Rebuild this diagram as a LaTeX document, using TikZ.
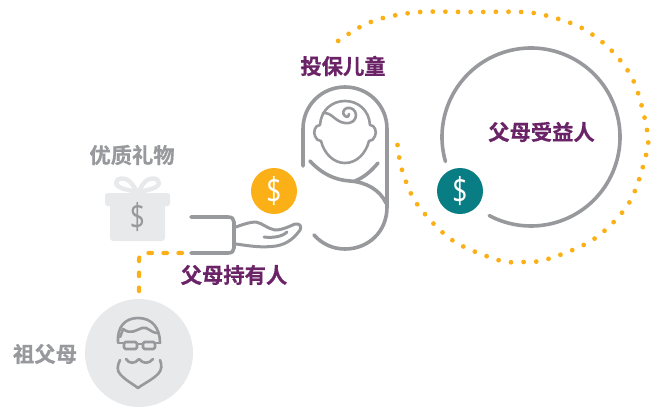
\documentclass[tikz,border=0pt]{standalone}
\usepackage{fontspec}
\setmainfont{Open Sans}
\newfontfamily\cjk{Noto Sans CJK SC}[BoldFont={Noto Sans CJK SC Bold},BoldFeatures={FakeBold=0.6}]
\definecolor{lineg}{HTML}{98999C}
\definecolor{lightg}{HTML}{E8E9EB}
\definecolor{plum}{HTML}{6B2367}
\definecolor{amber}{HTML}{FBB018}
\definecolor{tealc}{HTML}{087D84}
\newcommand{\dollarmark}{\scalebox{0.8}[1.08]{\$}}
\tikzset{
 every node/.style={inner sep=0pt,outer sep=0pt},
 glyph/.style={draw=lineg,line width=3.6pt,line cap=round,line join=round},
 face/.style={draw=lineg,line width=2.6pt,line cap=round,line join=round},
 bowline/.style={draw=lightg,line width=4.4pt,line cap=round,line join=round},
 titlep/.style={font=\cjk\bfseries\fontsize{21.3}{24}\selectfont,text=plum},
 titleg/.style={font=\cjk\bfseries\fontsize{21.3}{24}\selectfont,text=lineg},
 coin/.style={circle,minimum size=46pt,text=white,font=\fontsize{33}{36}\selectfont},
 dotpath/.style={draw=amber,line width=4.8pt,line cap=round,dash pattern=on 0pt off 12.62pt},
 dashpath/.style={draw=amber,line width=4.2pt,line cap=round,dash pattern=on 3.6pt off 11.4pt}
}
\begin{document}
\begin{tikzpicture}[x=1pt,y=-1pt]
\useasboundingbox (0,0) rectangle (660,407);
% labels
\node[titlep] (lblinsured) at (343,66) {投保儿童};
\node[titlep] (lblbenef) at (541.5,132) {父母受益人};
\node[titlep] (lblholder) at (234,275) {父母持有人};
\node[titleg] (lblgift) at (132,155) {优质礼物};
\node[titleg] (lblgrand) at (45,354) {祖父母};
% beneficiary ring
\coordinate (ringc) at (531,137);
\draw[glyph] (ringc) ++(164:89) arc[start angle=164,end angle=478,radius=89];
% coins
\node[coin,fill=amber] (coinholder) at (274,191) {\dollarmark};
\node[coin,fill=tealc] (coinbenef) at (460,191) {\dollarmark};
% dotted loop
\coordinate (dotstart) at (397.5,145);
\coordinate (dotend) at (338,41);
\draw[dotpath] plot[smooth,tension=0.55] coordinates {(dotstart) (402,170) (417,204) (452,240) (498,260) (523,262) (548,259) (594,239) (629,203) (646,155) (647,130) (634,82) (612,51) (582,28) (548,16) (522,12) (471,12) (420,12) (383,18) (360,27) (dotend)};
% baby
\draw[glyph] (303,166) -- (303,129) .. controls (303,105) and (322,87) .. (345,87) .. controls (368,87) and (387,105) .. (387,129) -- (387,207) .. controls (387,232) and (368,249) .. (345,249) .. controls (333,249) and (322,244) .. (314,235);
\draw[glyph] (310,161) .. controls (322,174) and (335,180) .. (350,181) .. controls (366,182) and (380,190) .. (386,203);
\draw[glyph] (378,163) .. controls (372,170) and (365,177) .. (355,181);
\draw[face] (320,125) .. controls (321,110) and (332,101) .. (345,101) .. controls (358,101) and (369,110) .. (370,125) .. controls (375,125) and (377,132) .. (375,136) .. controls (374,139) and (372,141) .. (369,141) .. controls (366,153) and (357,163) .. (345,163) .. controls (333,163) and (324,153) .. (321,141) .. controls (318,141) and (316,139) .. (315,136) .. controls (313,132) and (315,125) .. (320,125);
\draw[face] (323,113) .. controls (332,112) and (335,122) .. (345,123) .. controls (352,124) and (356,120) .. (356,115) .. controls (356,110) and (351,107) .. (347,108) .. controls (343,109) and (342,114) .. (345,116) .. controls (347,118) and (350,116) .. (349,114);
% hand
\draw[glyph] (191,217) -- (228,217) .. controls (232,217) and (234,219) .. (234,222) -- (234,248) .. controls (234,251) and (232,253) .. (228,253) -- (191,253);
\draw[face,line width=3pt] (236,227) .. controls (244,224) and (250,222) .. (256,222) .. controls (262,223) and (268,229) .. (275,230) .. controls (283,230) and (290,226) .. (295,224) .. controls (300,223) and (302,227) .. (300,230) .. controls (295,237) and (288,244) .. (276,246) .. controls (262,248) and (250,246) .. (236,244);
\draw[face,line width=3pt] (264,237) .. controls (272,238) and (282,237) .. (287,232);
% gift
\fill[lightg,rounded corners=2.5pt] (105,193) rectangle (170,206);
\fill[lightg,rounded corners=3pt] (110,200) rectangle (165,241);
\draw[bowline] (137,192) .. controls (130,190) and (117,189) .. (116,183) .. controls (116,177) and (127,177) .. (131,183) .. controls (134,186) and (136,190) .. (137,192);
\draw[bowline] (139,192) .. controls (146,190) and (158,189) .. (159,183) .. controls (159,177) and (148,177) .. (144,183) .. controls (141,186) and (140,190) .. (139,192);
\node[text=lineg,font=\fontsize{33}{36}\selectfont] (giftcoin) at (137.5,217) {\dollarmark};
% grandparent
\node[circle,fill=lightg,minimum size=108pt] (grand) at (139,353) {};
\draw[face] (118,342) .. controls (117,327) and (125,318) .. (138,318) .. controls (152,318) and (160,328) .. (160,343);
\draw[face] (120,337) .. controls (122,333) and (122,331) .. (123,329) .. controls (131,335) and (136,330) .. (142,328) .. controls (148,326) and (150,333) .. (158,333);
\draw[face,rounded corners=1.5pt] (124,342) rectangle (137,349);
\draw[face,rounded corners=1.5pt] (143,342) rectangle (155,349);
\draw[face] (137,344) -- (143,344) (118,343) -- (124,343) (155,343) -- (160,343);
\draw[face] (120,360) .. controls (117,366) and (117,371) .. (120,374) .. controls (125,380) and (133,384) .. (138,388) .. controls (143,384) and (152,380) .. (158,374) .. controls (162,370) and (162,365) .. (160,360);
\draw[face] (126,359) .. controls (129,364) and (135,364) .. (139,359) .. controls (143,364) and (149,364) .. (153,359);
% dashed link
\coordinate (handend) at (182,253);
\draw[dashpath] (handend) -- (146,253) .. controls (141,253) and (139,255) .. (139,260) -- (grand.north);
\end{tikzpicture}
\end{document}
